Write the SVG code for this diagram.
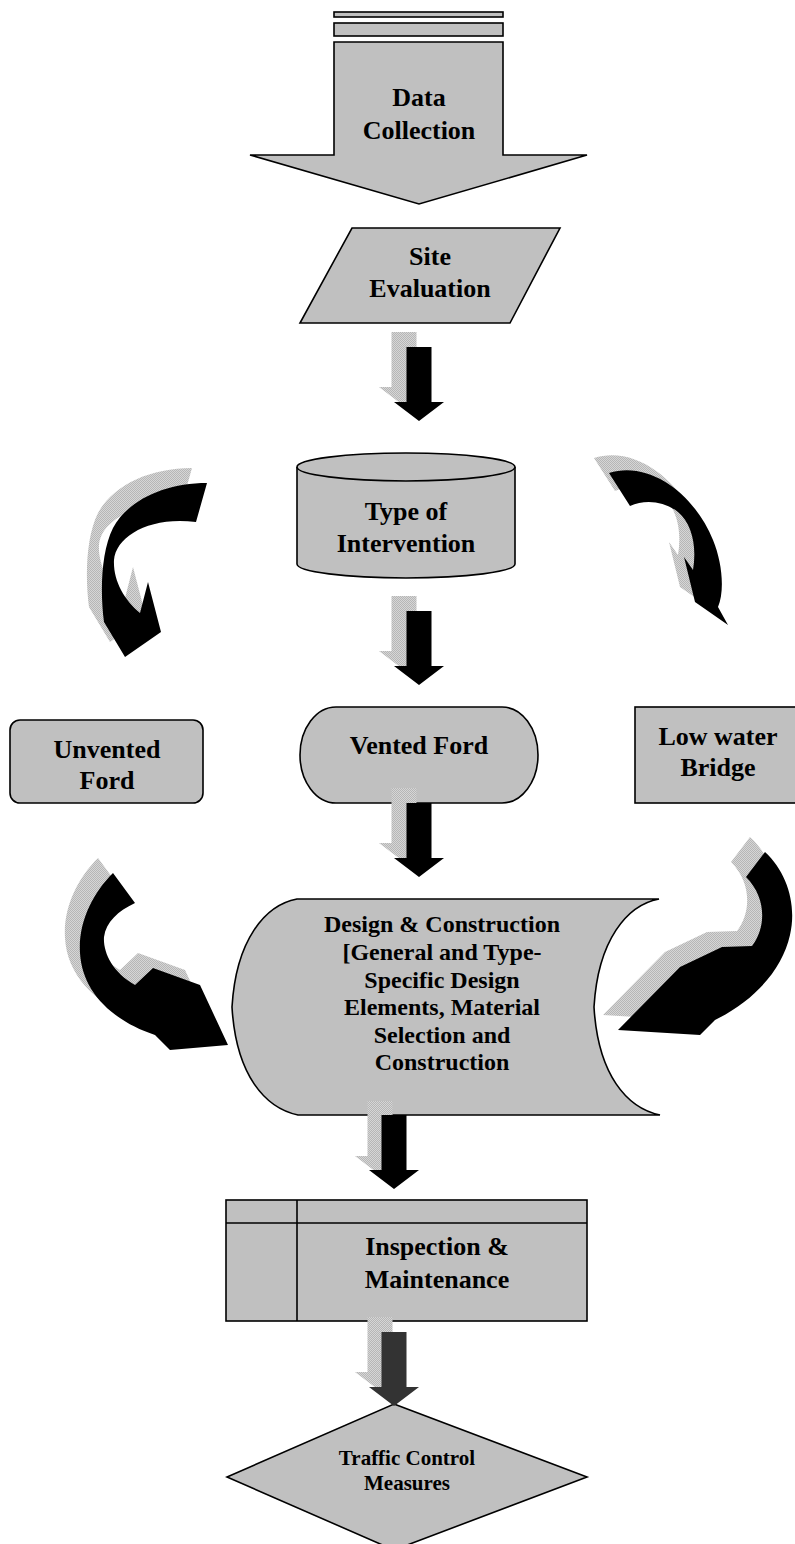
<svg xmlns="http://www.w3.org/2000/svg" width="795" height="1544" viewBox="0 0 795 1544">
<defs>
<pattern id="dither" width="2" height="2" patternUnits="userSpaceOnUse"><rect width="2" height="2" fill="#d6d6d6"/><rect width="1" height="1" fill="#b6b6b6"/><rect x="1" y="1" width="1" height="1" fill="#b6b6b6"/></pattern>
<path id="down" d="M-12.5,0 H12.5 V55 H25 L0,74 L-25,55 H-12.5 Z"/>
</defs>
<style>
.node{fill:#c0c0c0;stroke:#000;stroke-width:1.6}
.lbl{font-family:"Liberation Serif","Times New Roman",serif;font-weight:bold;font-size:26px;fill:#000;text-anchor:middle}
.shadow{fill:url(#dither)}
.blk{fill:#000}
</style>
<rect width="795" height="1544" fill="#fff"/>

<g id="data-collection">
<rect class="node" x="334" y="12" width="169" height="5"/>
<rect class="node" x="334" y="23" width="169" height="13"/>
<path class="node" d="M334,42 H503 V155 H587 L419,204 L250,155 H334 Z"/>
<text class="lbl" x="419" y="106">Data</text>
<text class="lbl" x="419" y="139">Collection</text>
</g>

<g id="site-evaluation">
<path class="node" d="M352,228 H560 L510,323 H300 Z"/>
<text class="lbl" x="430" y="265">Site</text>
<text class="lbl" x="430" y="297">Evaluation</text>
</g>

<g id="type-of-intervention">
<path class="node" d="M297,467 V564 A109,14 0 0 0 515,564 V467"/>
<ellipse class="node" cx="406" cy="467" rx="109" ry="14"/>
<text class="lbl" x="406" y="520">Type of</text>
<text class="lbl" x="406" y="552">Intervention</text>
</g>

<g id="unvented-ford">
<rect class="node" x="10" y="720" width="193" height="83" rx="10"/>
<text class="lbl" x="107" y="758">Unvented</text>
<text class="lbl" x="107" y="789">Ford</text>
</g>

<g id="vented-ford">
<rect class="node" x="300" y="707" width="238" height="96" rx="36" ry="48"/>
<text class="lbl" x="419" y="754">Vented Ford</text>
</g>

<g id="low-water-bridge">
<rect class="node" x="635" y="707" width="180" height="96"/>
<text class="lbl" x="718" y="745">Low water</text>
<text class="lbl" x="718" y="776">Bridge</text>
</g>

<g id="design-construction">
<path class="node" d="M297,899 H659 C627,905 598,940 594,1007 C598,1075 627,1108 660,1115 H298 C265,1108 236,1075 232,1007 C236,940 265,905 297,899 Z"/>
<g class="lbl" style="font-size:24px">
<text x="442" y="932">Design &amp; Construction</text>
<text x="442" y="960">[General and Type-</text>
<text x="442" y="988">Specific Design</text>
<text x="442" y="1015">Elements, Material</text>
<text x="442" y="1043">Selection and</text>
<text x="442" y="1070">Construction</text>
</g>
</g>

<g id="inspection-maintenance">
<rect class="node" x="226" y="1200" width="361" height="121"/>
<line x1="226" y1="1223" x2="587" y2="1223" stroke="#000" stroke-width="1.6"/>
<line x1="297" y1="1200" x2="297" y2="1321" stroke="#000" stroke-width="1.6"/>
<text class="lbl" x="437" y="1255">Inspection &amp;</text>
<text class="lbl" x="437" y="1288">Maintenance</text>
</g>

<g id="traffic-control-measures">
<path class="node" d="M394,1404 L587,1477 L394,1550 L227,1477 Z"/>
<text class="lbl" x="407" y="1465" style="font-size:21px">Traffic Control</text>
<text class="lbl" x="407" y="1490" style="font-size:21px">Measures</text>
</g>

<g id="connectors">
<use href="#down" class="shadow" x="404" y="332"/>
<use href="#down" class="blk" x="419" y="347"/>
<use href="#down" class="shadow" x="404" y="596"/>
<use href="#down" class="blk" x="419" y="611"/>
<use href="#down" class="shadow" x="404" y="788"/>
<use href="#down" class="blk" x="419" y="803"/>
<use href="#down" class="shadow" x="380" y="1101"/>
<use href="#down" class="blk" x="394" y="1115"/>
<use href="#down" class="shadow" x="380" y="1317"/>
<use href="#down" fill="#333" x="394" y="1332"/>

<g id="curve-a">
<path class="shadow" transform="translate(-15,-15)" d="M207,483 C165,483 128,500 113,528 C101,552 100,592 104,622 L125,657 L161,632 L148,582 L140,613 C124,600 113,580 114,560 C116,536 150,516 196,522 Z"/>
<path class="blk" d="M207,483 C165,483 128,500 113,528 C101,552 100,592 104,622 L125,657 L161,632 L148,582 L140,613 C124,600 113,580 114,560 C116,536 150,516 196,522 Z"/>
</g>
<g id="curve-b">
<path class="shadow" transform="translate(-15,-15)" d="M609,473 C650,460 695,495 713,540 C722,562 725,590 718,607 L728,625 L695,602 L684,557 L693,570 C697,546 692,524 678,512 C664,501 645,499 630,506 Z"/>
<path class="blk" d="M609,473 C650,460 695,495 713,540 C722,562 725,590 718,607 L728,625 L695,602 L684,557 L693,570 C697,546 692,524 678,512 C664,501 645,499 630,506 Z"/>
</g>
<g id="curve-c">
<path class="shadow" transform="translate(-15,-15)" d="M113,873 C93,893 78,922 80,953 C82,990 110,1020 155,1035 L170,1050 L228,1045 L200,985 L153,968 L135,985 C112,972 103,952 104,937 C106,922 118,911 135,903 Z"/>
<path class="blk" d="M113,873 C93,893 78,922 80,953 C82,990 110,1020 155,1035 L170,1050 L228,1045 L200,985 L153,968 L135,985 C112,972 103,952 104,937 C106,922 118,911 135,903 Z"/>
</g>
<g id="curve-d">
<path class="shadow" transform="translate(-15,-15)" d="M765,852 C787,872 797,905 790,935 C782,970 755,1000 715,1020 L700,1035 L618,1030 L680,967 L722,947 L752,946 C766,928 767,898 746,877 Z"/>
<path class="blk" d="M765,852 C787,872 797,905 790,935 C782,970 755,1000 715,1020 L700,1035 L618,1030 L680,967 L722,947 L752,946 C766,928 767,898 746,877 Z"/>
</g>
</g>
</svg>
